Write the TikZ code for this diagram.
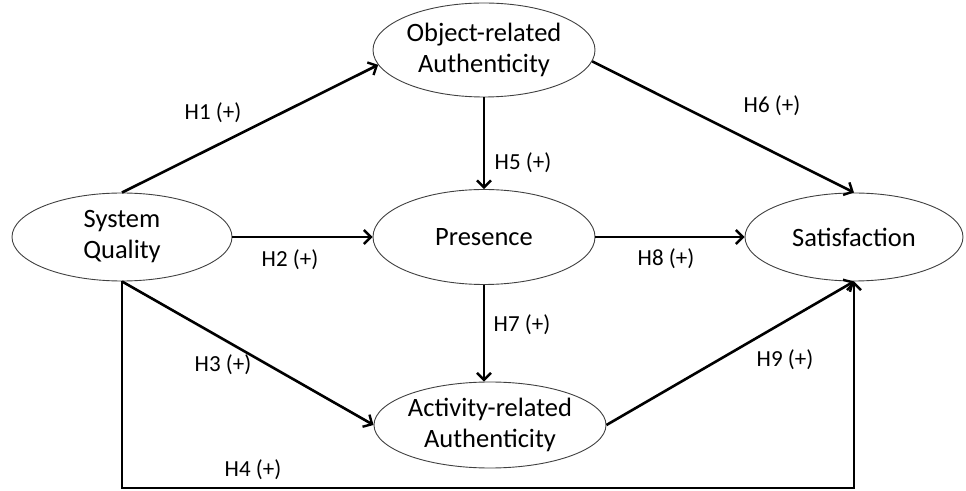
\documentclass[tikz,border=0pt]{standalone}
\usepackage{fontspec}
\setmainfont{Carlito}
\usetikzlibrary{shapes.geometric,arrows.meta}
\begin{document}
\begin{tikzpicture}[x=1pt,y=1pt,
  construct/.style = {ellipse, draw = black!75, line width = 0.9pt, fill = white,
    align = center, inner sep = 0pt, font = \fontsize{26.5}{31}\selectfont},
  hypo/.style = {line width = 2.6pt, -{Straight Barb[length=7pt,width=14pt,line width=2.4pt]}},
  hlabel/.style = {font = \fontsize{23}{27}\selectfont, inner sep = 1pt}]
\useasboundingbox (0,0) rectangle (966,490);
% constructs
\node[construct, minimum width = 220, minimum height = 88] (sq) at (122,253) {System\\Quality};
\node[construct, minimum width = 222, minimum height = 94] (obj) at (484,440) {Object-related\\Authenticity};
\node[construct, minimum width = 222, minimum height = 95] (pres) at (484,253) {Presence};
\node[construct, minimum width = 218, minimum height = 88] (sat) at (854,253) {Satisfaction};
\node[construct, minimum width = 219, minimum height = 86] (act) at (490,65) {Activity-related\\Authenticity};
\coordinate (h4) at (0,2);
% hypotheses
\draw[hypo] (sq.north) -- (obj.188);
\draw[hypo] (sq.east) -- (pres.west);
\draw[hypo] (sq.south) -- (act.west);
\draw[hypo] (sq.south) -- (sq.south |- h4) -| (sat.south);
\draw[hypo] (obj.south) -- (pres.north);
\draw[hypo] (obj.-6) -- (sat.north);
\draw[hypo] (pres.south) -- (pres.south |- act.north);
\draw[hypo] (pres.east) -- (sat.west);
\draw[hypo] (act.east) -- (sat.south);
% labels
\node[hlabel] (l1) at (213,377) {H1 (+)};
\node[hlabel] (l2) at (290,230) {H2 (+)};
\node[hlabel] (l3) at (223,125) {H3 (+)};
\node[hlabel] (l4) at (253,20) {H4 (+)};
\node[hlabel] (l5) at (523,327) {H5 (+)};
\node[hlabel] (l6) at (772,384) {H6 (+)};
\node[hlabel] (l7) at (522,165) {H7 (+)};
\node[hlabel] (l8) at (666,231) {H8 (+)};
\node[hlabel] (l9) at (785,130) {H9 (+)};
\end{tikzpicture}
\end{document}
